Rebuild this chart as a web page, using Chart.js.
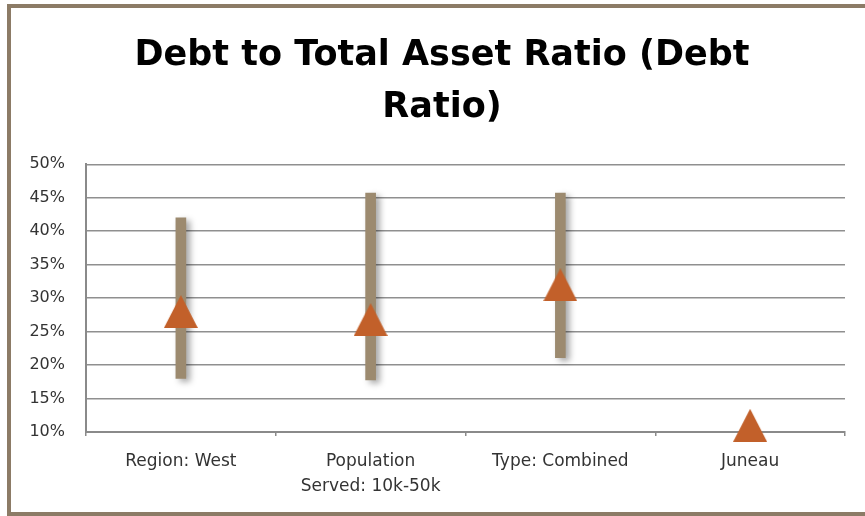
<!DOCTYPE html>
<html>
<head>
<meta charset="utf-8">
<script src="https://cdn.jsdelivr.net/npm/chart.js@4/dist/chart.umd.min.js"></script>
<style>
  html, body { margin: 0; padding: 0; background: #ffffff; overflow: hidden; }
  #frame {
    position: absolute; left: 7px; top: 4px; width: 880px; height: 512px;
    border: 4px solid #8c7b66; box-sizing: border-box; background: #ffffff;
  }
  #wrap { position: absolute; left: 0; top: 0; width: 865px; height: 516px; }
</style>
</head>
<body>
<div id="frame"></div>
<div id="wrap"><canvas id="chart" width="865" height="516"></canvas></div>
<script>
// Debt ratio: range (low–high) per peer group and the point value
const categories = ['Region: West', ['Population', 'Served: 10k-50k'], 'Type: Combined', 'Juneau'];
const rangeLow = [18, 17.8, 21.1, null];
const rangeHigh = [42, 45.7, 45.7, null];
const pointValues = [28, 26.8, 32, 11];
const yMin = 10, yMax = 50, yStep = 5;

const FONT = '"DejaVu Sans", sans-serif';

// triangle marker drawn centred in its own bounding box
function triangleMarker(w, h, color) {
  const c = document.createElement('canvas');
  c.width = w; c.height = h;
  const g = c.getContext('2d');
  g.fillStyle = color;
  g.beginPath();
  g.moveTo(w / 2, 0);
  g.lineTo(w, h);
  g.lineTo(0, h);
  g.closePath();
  g.fill();
  return c;
}

// soft drop shadow under the range bars
const barShadow = {
  id: 'barShadow',
  beforeDatasetDraw(chart, args) {
    if (args.index === 0) {
      const c = chart.ctx;
      c.save();
      c.shadowColor = 'rgba(0,0,0,0.35)';
      c.shadowBlur = 6;
      c.shadowOffsetX = 4;
      c.shadowOffsetY = 3;
    }
  },
  afterDatasetDraw(chart, args) {
    if (args.index === 0) chart.ctx.restore();
  }
};

// centre the title box over the framed panel rather than the canvas
const titleCentre = {
  id: 'titleCentre',
  afterLayout(chart) {
    const t = chart.titleBlock;
    if (t) { t.left = 39; t.right = 845; }
  }
};

const rangeData = categories.map((_, i) => rangeLow[i] == null ? null : [rangeLow[i], rangeHigh[i]]);

new Chart(document.getElementById('chart'), {
  type: 'bar',
  data: {
    labels: categories,
    datasets: [
      {
        type: 'bar',
        data: rangeData,
        backgroundColor: '#9c8a6f',
        borderWidth: 0,
        barThickness: 10,
        grouped: false,
        order: 1
      },
      {
        type: 'line',
        data: pointValues,
        showLine: false,
        pointStyle: triangleMarker(34, 33, '#c2602a'),
        pointRadius: 17,
        pointHoverRadius: 17,
        clip: false,
        order: 0
      }
    ]
  },
  options: {
    responsive: false,
    animation: false,
    events: [],
    layout: { padding: { left: 0, right: 20, top: 0, bottom: 0 } },
    plugins: {
      legend: { display: false },
      tooltip: { enabled: false },
      title: {
        display: true,
        text: ['Debt to Total Asset Ratio (Debt', 'Ratio)'],
        color: '#000000',
        font: { family: FONT, size: 35, weight: 'bold', lineHeight: 1.49 },
        padding: { top: 30, bottom: 30 }
      }
    },
    scales: {
      x: {
        offset: true,
        grid: { display: true, drawOnChartArea: false, drawTicks: true, tickLength: 4, color: '#8a8a8a', lineWidth: 1.5 },
        border: { display: true, color: '#8a8a8a', width: 2 },
        ticks: {
          color: '#333333',
          font: { family: FONT, size: 17, lineHeight: '25px' },
          padding: 13,
          maxRotation: 0,
          autoSkip: false
        },
        afterFit(scale) { scale.height = 84; }
      },
      y: {
        min: yMin,
        max: yMax,
        grid: { color: '#8f8f8f', lineWidth: 1.5, drawTicks: false },
        border: { display: true, color: '#8a8a8a', width: 2 },
        ticks: {
          stepSize: yStep,
          color: '#333333',
          font: { family: FONT, size: 16 },
          padding: 21,
          callback: v => v + '%'
        },
        afterFit(scale) { scale.width = 86; }
      }
    }
  },
  plugins: [barShadow, titleCentre]
});
</script>
</body>
</html>
